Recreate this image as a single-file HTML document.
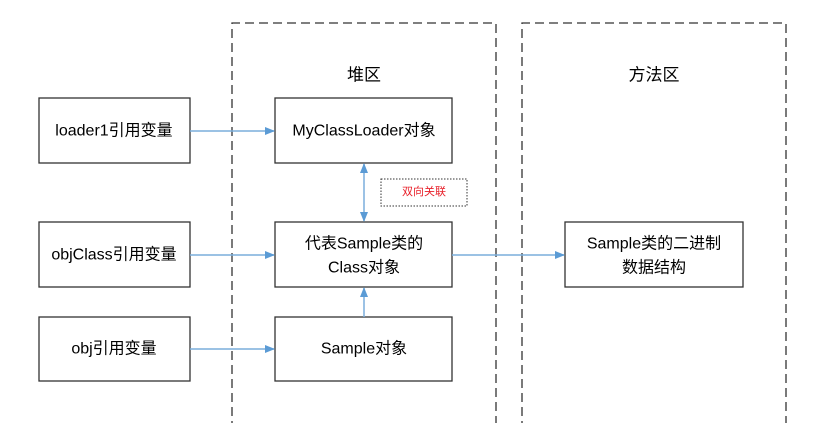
<!DOCTYPE html>
<html><head><meta charset="utf-8"><style>
html,body{margin:0;padding:0;background:#fff;}
svg{display:block;}
text{font-family:"Liberation Sans","Noto Sans CJK SC",sans-serif;font-size:16px;fill:#000;text-anchor:middle;dominant-baseline:central;}
</style></head><body>
<svg width="829" height="423" viewBox="0 0 829 423" xmlns="http://www.w3.org/2000/svg">
<defs>
<marker id="a" markerWidth="10" markerHeight="8" refX="9" refY="4" orient="auto" markerUnits="userSpaceOnUse">
<path d="M0,0 L10,4 L0,8 z" fill="#5b9bd5"/></marker>
</defs>
<g fill="none" stroke="#333" stroke-width="1.3" stroke-dasharray="9,5">
<path d="M232,430 V23 H496 V430"/>
<path d="M522,430 V23 H786 V430"/>
</g>
<text x="364" y="75" style="font-size:17px">堆区</text>
<text x="654" y="75" style="font-size:17px">方法区</text>
<g fill="#fff" stroke="#333" stroke-width="1.3">
<rect x="39" y="98" width="151" height="65"/>
<rect x="39" y="222" width="151" height="65"/>
<rect x="39" y="317" width="151" height="64"/>
<rect x="275" y="98" width="177" height="65"/>
<rect x="275" y="222" width="177" height="65"/>
<rect x="275" y="317" width="177" height="64"/>
<rect x="565" y="222" width="178" height="65"/>
</g>
<rect x="381" y="179" width="86" height="27" fill="none" stroke="#333" stroke-width="1" stroke-dasharray="1.5,1.5"/>
<g stroke="#7aaedc" stroke-width="1.5" fill="none">
<line x1="190" y1="131" x2="274" y2="131" marker-end="url(#a)"/>
<line x1="190" y1="255" x2="274" y2="255" marker-end="url(#a)"/>
<line x1="190" y1="349" x2="274" y2="349" marker-end="url(#a)"/>
<line x1="452" y1="255" x2="564" y2="255" marker-end="url(#a)"/>
<line x1="364" y1="317" x2="364" y2="288" marker-end="url(#a)"/>
<line x1="364" y1="190" x2="364" y2="164" marker-end="url(#a)"/>
<line x1="364" y1="190" x2="364" y2="221" marker-end="url(#a)"/>
</g>
<text x="114" y="131">loader1引用变量</text>
<text x="114" y="255">objClass引用变量</text>
<text x="114" y="349">obj引用变量</text>
<text x="364" y="131">MyClassLoader对象</text>
<text x="364" y="244">代表Sample类的</text>
<text x="364" y="268">Class对象</text>
<text x="364" y="349">Sample对象</text>
<text x="654" y="244">Sample类的二进制</text>
<text x="654" y="268">数据结构</text>
<text x="424" y="192" style="font-size:11px;fill:#e8202a">双向关联</text>
</svg>
</body></html>
